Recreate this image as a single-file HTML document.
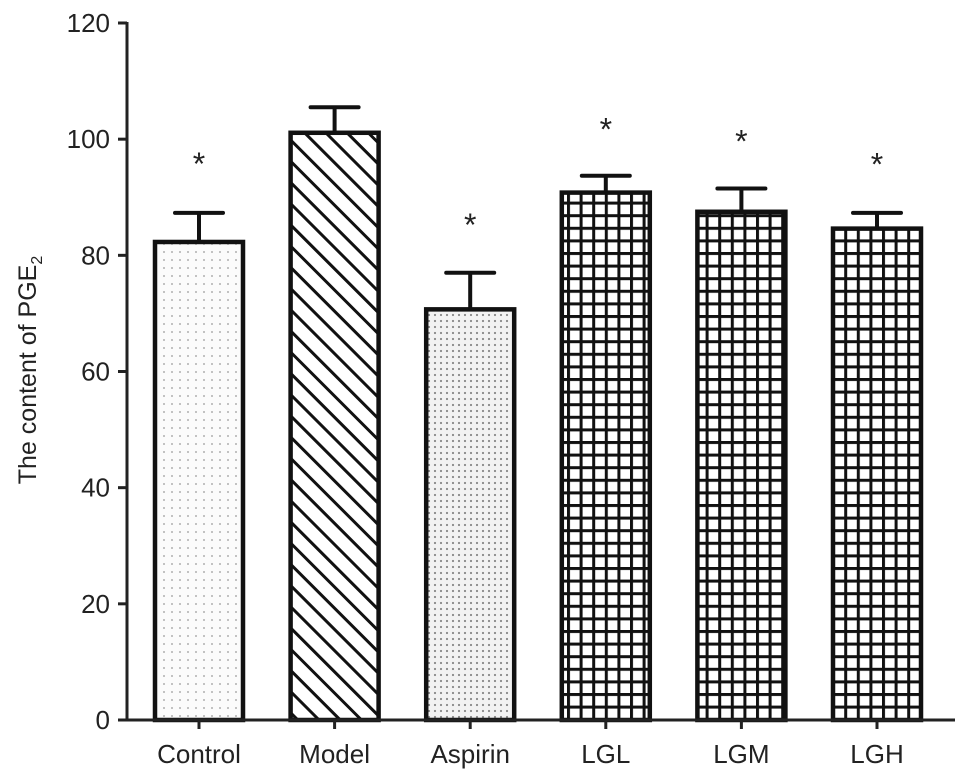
<!DOCTYPE html>
<html><head><meta charset="utf-8">
<style>
html,body{margin:0;padding:0;background:#fff;}
svg{display:block;font-family:"Liberation Sans",Arial,sans-serif;}
</style></head>
<body>
<svg id="chart" width="969" height="783" viewBox="0 0 969 783">
<defs>
<pattern id="dots" width="8" height="8" patternUnits="userSpaceOnUse"><rect width="8" height="8" fill="#fbfbfb"/><circle cx="4" cy="4" r="0.9" fill="#999"/></pattern>
<pattern id="dots2" width="6" height="6" patternUnits="userSpaceOnUse"><rect width="6" height="6" fill="#f2f2f2"/><circle cx="3" cy="3" r="1.1" fill="#888"/></pattern>
<pattern id="diag" width="15" height="15" patternUnits="userSpaceOnUse" patternTransform="rotate(-45)"><rect width="15" height="15" fill="#fff"/><rect x="0" y="0" width="3" height="15" fill="#111"/></pattern>
<pattern id="grid" width="12.6" height="12.6" patternUnits="userSpaceOnUse"><rect width="12.6" height="12.6" fill="#111"/><rect x="3" y="3" width="9.6" height="9.6" fill="#fff"/></pattern>
</defs>
<g id="plot"></g>
<text x="36" y="370" transform="rotate(-90 36 370)" text-anchor="middle" font-size="25" fill="#222">The content of PGE<tspan font-size="16" dy="6">2</tspan></text>
</svg>
<script>
const categories=["Control","Model","Aspirin","LGL","LGM","LGH"];
const means=[82.3,101.1,70.7,90.8,87.5,84.6];
const errors=[5.0,4.4,6.3,2.9,4.0,2.7];
const significant=[true,false,true,true,true,true];
const starValues=[97.8,0,87.3,103.7,101.7,97.7];
const yTicks=[0,20,40,60,80,100,120];
const fills=["url(#dots)","url(#diag)","url(#dots2)","url(#grid)","url(#grid)","url(#grid)"];
const NS="http://www.w3.org/2000/svg";
const g=document.getElementById("plot");
const y0=720,yTop=23,yMax=120,axisX=127;
function y(v){return y0-(v/yMax)*(y0-yTop);}
function xc(i){return 199+i*135.6;}
const bw=88;
function el(t,a){const e=document.createElementNS(NS,t);for(const k in a)e.setAttribute(k,a[k]);g.appendChild(e);return e;}
let ax=el("line",{x1:axisX,y1:yTop-1,x2:axisX,y2:y0+1.5,stroke:"#222","stroke-width":3});


yTicks.forEach(t=>{
 const l=el("line",{x1:axisX-9,x2:axisX,y1:y(t),y2:y(t),stroke:"#222","stroke-width":3});
 
 
 const tx=el("text",{x:axisX-17,y:y(t)+9,"text-anchor":"end","font-size":26,fill:"#222"});
 tx.textContent=t;
 
 
});
categories.forEach((c,i)=>{
 const cx=xc(i),top=y(means[i]);
 const r=el("rect",{x:cx-bw/2,y:top,width:bw,height:y0-top,fill:fills[i],stroke:"#111","stroke-width":4.5});
 
 
 const ye=y(means[i]+errors[i]);
 const e1=el("line",{x1:cx,x2:cx,y1:top,y2:ye,stroke:"#111","stroke-width":4});
 
 
 const e2=el("line",{x1:cx-24,x2:cx+24,y1:ye,y2:ye,stroke:"#111","stroke-width":4,"stroke-linecap":"round"});
 
 
 if(significant[i]){
  const s=el("text",{x:cx,y:y(starValues[i])+23,"text-anchor":"middle","font-size":32,fill:"#222"});
  s.textContent="*";
  
  
 }
 const tk=el("line",{x1:cx,x2:cx,y1:y0,y2:y0+9,stroke:"#222","stroke-width":3});
 
 
 const lb=el("text",{x:cx,y:y0+43,"text-anchor":"middle","font-size":26,fill:"#222"});
 lb.textContent=c;
 
 
});
const xa=el("line",{x1:axisX-1.5,x2:955,y1:y0,y2:y0,stroke:"#222","stroke-width":3});


</script>
</body></html>
